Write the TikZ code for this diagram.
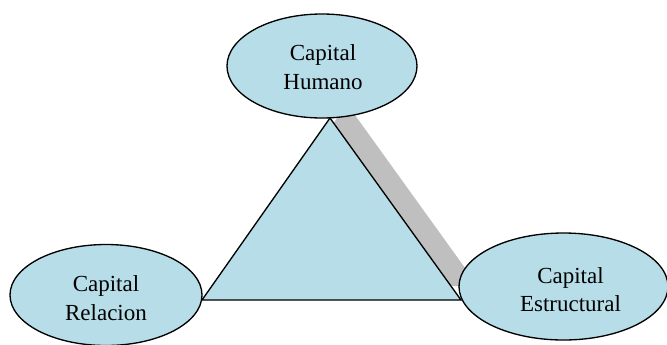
\documentclass[tikz,border=0pt]{standalone}
\usepackage{fontspec}
\setmainfont{Liberation Serif}
\usetikzlibrary{shapes.geometric}
\definecolor{cfill}{RGB}{183,221,232}
\definecolor{cshadow}{RGB}{191,191,191}
\tikzset{
  capnode/.style={ellipse, draw=black, line width=1pt, fill=cfill, inner sep=0pt},
  captext/.style={inner sep=0pt, align=center, font=\fontsize{17.25}{21.5}\selectfont},
}
\begin{document}
\begin{tikzpicture}[x=0.75pt,y=-0.75pt]
\useasboundingbox (0,0) rectangle (667,344);
% triangle vertices
\coordinate (A) at (330,118);
\coordinate (B) at (202,300);
\coordinate (C) at (461,300);
% shadow
\fill[cshadow] ([shift={(17,-14)}]A) -- ([shift={(17,-14)}]B) -- ([shift={(17,-14)}]C) -- cycle;
% triangle
\draw[line width=1pt, fill=cfill, line join=miter] (A) -- (B) -- (C) -- cycle;
% ellipses
\node[capnode, minimum width=190*0.75pt, minimum height=104*0.75pt] (hum) at (322,66) {};
\node[capnode, minimum width=192*0.75pt, minimum height=101*0.75pt] (rel) at (106,295) {};
\node[capnode, minimum width=209*0.75pt, minimum height=107*0.75pt] (est) at (563.5,286.5) {};
% texts
\node[captext] (humtxt) at ([shift={(1,1)}]hum.center) {Capital\\Humano};
\node[captext] (reltxt) at ([shift={(0,3)}]rel.center) {Capital\\Relacion};
\node[captext] (esttxt) at ([shift={(7,3)}]est.center) {Capital\\Estructural};
\end{tikzpicture}
\end{document}
